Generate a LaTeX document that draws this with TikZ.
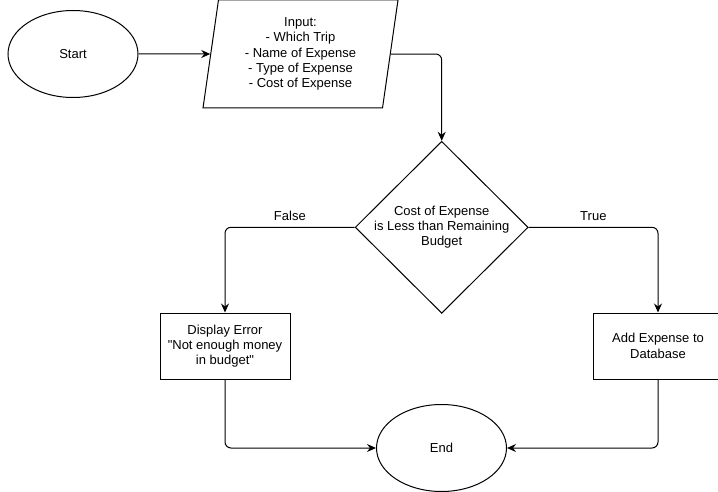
\documentclass[tikz,border=0pt]{standalone}
\usepackage{fontspec}
\setmainfont{Liberation Sans}
\usetikzlibrary{shapes.geometric}
\usetikzlibrary{arrows.meta}

\begin{document}
\begin{tikzpicture}[x=1pt, y=-1pt, >={Stealth[length=9pt,width=8pt,inset=3pt]},
  font=\fontsize{13}{15.3}\selectfont, line width=1pt,
  terminal/.style={draw, ellipse, minimum width=130pt, minimum height=87pt, inner sep=0pt},
  io/.style={draw, trapezium, trapezium left angle=78, trapezium right angle=102,
    trapezium stretches body, minimum width=195pt, minimum height=108pt, inner sep=0pt, align=center},
  decision/.style={draw, diamond, minimum width=173pt, minimum height=172pt, inner sep=0pt},
  process/.style={draw, rectangle, minimum width=130pt, minimum height=66pt, inner sep=0pt, align=center}]
  \useasboundingbox (0,0) rectangle (718,492);

  % Nodes
  \node[terminal] (start) at (73, 54) {Start};
  \node[io] (input) at (300.5, 54) {Input:\\- Which Trip\\- Name of Expense\\- Type of Expense\\- Cost of Expense};
  \node[decision, label={[align=center]center:Cost of Expense\\is Less than Remaining\\Budget}] (check) at (441.7, 227.3) {};
  \node[process] (err) at (225, 346) {Display Error\\\textquotedbl Not enough money\\in budget\textquotedbl};
  \node[process] (add) at (658, 346) {Add Expense to\\Database};
  \node[terminal] (stop) at (441.5, 448) {End};

  % Flow
  \draw[->] (start) -- (input);
  \draw[->, rounded corners=6pt] (input.east) -| (check.north);

  % Branches
  \draw[->, rounded corners=6pt] (check.west) -| node[pos=0.25, above=2.5pt] {False} (err.north);
  \draw[->, rounded corners=6pt] (check.east) -| node[pos=0.25, above=2.5pt] {True} (add.north);

  % Back to end
  \draw[->, rounded corners=6pt] (err.south) |- (stop.west);
  \draw[->, rounded corners=6pt] (add.south) |- (stop.east);
\end{tikzpicture}
\end{document}
